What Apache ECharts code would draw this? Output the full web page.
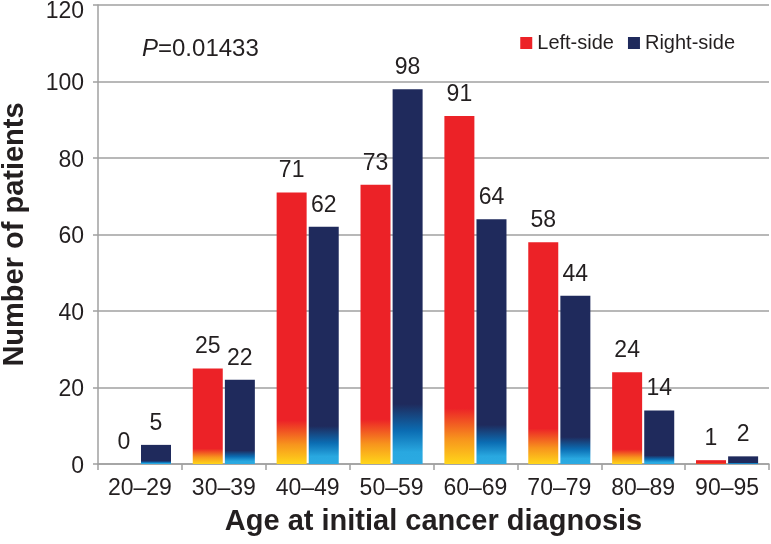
<!DOCTYPE html>
<html>
<head>
<meta charset="utf-8">
<script src="https://cdn.jsdelivr.net/npm/echarts@6/dist/echarts.min.js"></script>
<style>
html,body{margin:0;padding:0;background:#fff;}
#c{width:771px;height:544px;}
</style>
</head>
<body>
<div id="c"></div>
<script>
var categories = ['20\u201329','30\u201339','40\u201349','50\u201359','60\u201369','70\u201379','80\u201389','90\u201395'];
var leftSide = [0, 25, 71, 73, 91, 58, 24, 1];
var rightSide = [5, 22, 62, 98, 64, 44, 14, 2];
var yTicks = [0, 20, 40, 60, 80, 100, 120];
var pText = '0.01433';

var FONT = '"Liberation Sans", Arial, Helvetica, sans-serif';
var RED = '#EC2227', NAVY = '#1F2A5C', TXT = '#231F20';

function redGrad(f) {
  return new echarts.graphic.LinearGradient(0, 0, 0, 1, [
    {offset: 0, color: RED},
    {offset: 1 - f, color: RED},
    {offset: 1 - f * 0.45, color: '#F7941D'},
    {offset: 1, color: '#FFD61A'}
  ]);
}
function blueGrad(f) {
  return new echarts.graphic.LinearGradient(0, 0, 0, 1, [
    {offset: 0, color: NAVY},
    {offset: 1 - f, color: NAVY},
    {offset: 1 - f * 0.55, color: '#0B6DB3'},
    {offset: 1 - f * 0.2, color: '#29A8E0'},
    {offset: 1, color: '#2BAAE2'}
  ]);
}

var chart = echarts.init(document.getElementById('c'), null, {renderer: 'canvas'});
var labelStyle = {show: true, position: 'top', distance: 10, fontSize: 23, color: TXT, fontFamily: FONT};

chart.setOption({
  animation: false,
  textStyle: {fontFamily: FONT},
  grid: {left: 98, right: 2, top: 5, bottom: 80, containLabel: false, outerBoundsMode: 'none'},
  legend: {
    right: 31, top: 28, itemWidth: 12, itemHeight: 12, itemGap: 14,
    textStyle: {fontSize: 20, color: TXT, fontFamily: FONT},
    data: [{name: 'Left-side', icon: 'rect'}, {name: 'Right-side', icon: 'rect'}]
  },
  graphic: [{
    type: 'text', left: 142, top: 37,
    style: {
      rich: {
        i: {fontStyle: 'italic', fontSize: 24, fill: TXT, fontFamily: FONT},
        n: {fontSize: 24, fill: TXT, fontFamily: FONT}
      },
      text: '{i|P}{n|=' + pText + '}'
    }
  }],
  xAxis: {
    type: 'category', data: categories,
    name: 'Age at initial cancer diagnosis', nameLocation: 'middle', nameGap: 43,
    nameTextStyle: {fontSize: 29, fontWeight: 'bold', color: TXT, fontFamily: FONT},
    axisLine: {lineStyle: {color: '#A0A0A0', width: 1.5}},
    axisTick: {show: true, length: 6, lineStyle: {color: '#A0A0A0', width: 1.5}},
    axisLabel: {fontSize: 23, color: TXT, margin: 13, fontFamily: FONT}
  },
  yAxis: {
    type: 'value', min: 0, max: 120, interval: 20,
    name: 'Number of patients', nameLocation: 'middle', nameGap: 69,
    nameTextStyle: {fontSize: 29, fontWeight: 'bold', color: TXT, fontFamily: FONT},
    axisLine: {show: true, lineStyle: {color: '#A0A0A0', width: 1.5}},
    axisTick: {show: true, length: 5, lineStyle: {color: '#A0A0A0', width: 1.5}},
    axisLabel: {color: TXT, margin: 14, fontFamily: FONT,
      formatter: function (v) {
        if (yTicks.indexOf(v) < 0) return '';
        return (v === yTicks[yTicks.length - 1] ? '{t|' : '{n|') + v + '}';
      },
      rich: {
        n: {fontSize: 23, color: TXT, fontFamily: FONT, padding: [5, 0, 0, 0]},
        t: {fontSize: 23, color: TXT, fontFamily: FONT, padding: [13, 0, 0, 0]}
      }
    },
    splitLine: {lineStyle: {color: '#A0A0A0', width: 1.5}}
  },
  series: [{
    name: 'Left-side', type: 'bar', barWidth: 30, barGap: '7%',
    itemStyle: {color: RED},
    label: labelStyle,
    data: leftSide.map(function (v) { return {value: v, itemStyle: {color: redGrad(0.16)}}; })
  }, {
    name: 'Right-side', type: 'bar', barWidth: 30, barGap: '7%',
    itemStyle: {color: NAVY},
    label: labelStyle,
    data: rightSide.map(function (v) { return {value: v, itemStyle: {color: blueGrad(0.16)}}; })
  }]
});
</script>
</body>
</html>
